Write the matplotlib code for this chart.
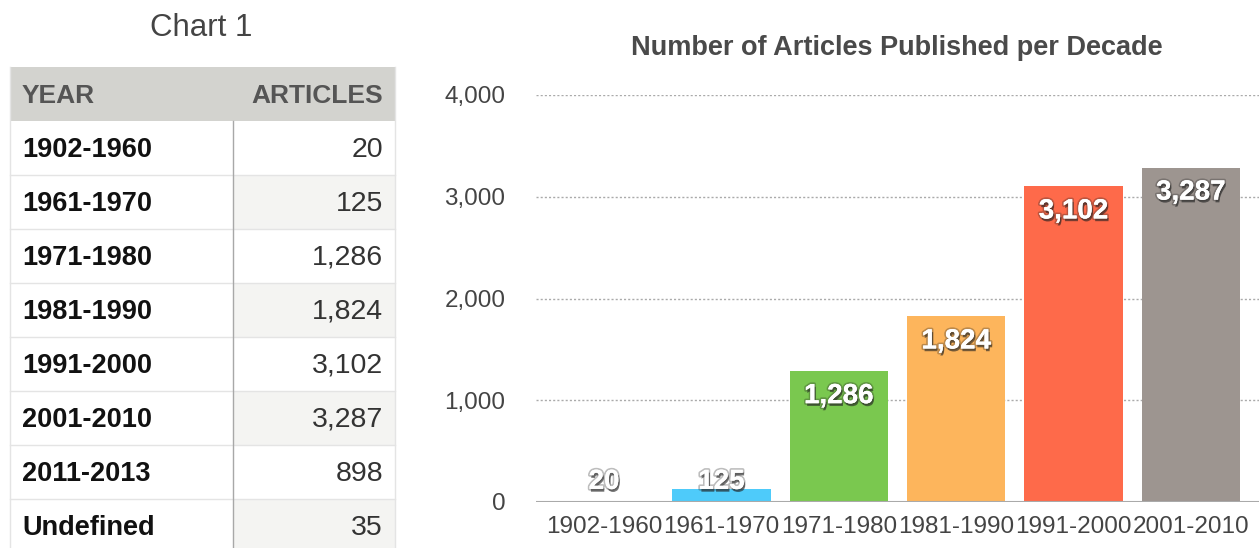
import matplotlib.pyplot as plt
import matplotlib.patheffects as pe
from matplotlib.patches import Rectangle

plt.rcParams['font.family'] = ['Liberation Sans', 'DejaVu Sans']

# table data
years = ['1902-1960', '1961-1970', '1971-1980', '1981-1990', '1991-2000',
         '2001-2010', '2011-2013', 'Undefined']
articles = [20, 125, 1286, 1824, 3102, 3287, 898, 35]

# chart data
decades = ['1902-1960', '1961-1970', '1971-1980', '1981-1990', '1991-2000', '2001-2010']
counts = [20, 125, 1286, 1824, 3102, 3287]
colors = ['#ffffff', '#4ecbfa', '#7ac84f', '#fdb55c', '#fe6a4a', '#9d9590']

W, H = 1259, 548
fig = plt.figure(figsize=(W / 100, H / 100), dpi=100)

# --- table on the left (drawn in pixel coords) ---
tab = fig.add_axes([0, 0, 1, 1])
tab.set_xlim(0, W)
tab.set_ylim(H, 0)
tab.axis('off')

tab.text(201, 28, 'Chart 1', ha='center', va='center', fontsize=22.5, color='#444444')

x0, x1, xdiv = 10, 395, 233
head_top, head_h, row_h = 67, 54, 54
tab.add_patch(Rectangle((x0, head_top), x1 - x0, head_h, facecolor='#d3d3cf',
                        edgecolor='none'))
tab.text(22, head_top + head_h / 2 + 2, 'YEAR', ha='left', va='center',
         fontsize=19, fontweight='bold', color='#555555')
tab.text(383, head_top + head_h / 2 + 2, 'ARTICLES', ha='right', va='center',
         fontsize=19, fontweight='bold', color='#555555')

for i, (yr, n) in enumerate(zip(years, articles)):
    top = head_top + head_h + i * row_h
    if i % 2 == 1:
        tab.add_patch(Rectangle((xdiv, top), x1 - xdiv, row_h,
                                facecolor='#f4f4f2', edgecolor='none'))
    if i > 0:
        tab.plot([x0, x1], [top, top], color='#e4e4e4', lw=1)
    tab.text(22, top + row_h / 2 + 2, yr, ha='left', va='center',
             fontsize=19.5, fontweight='bold', color='#111111')
    tab.text(383, top + row_h / 2 + 2, f'{n:,}', ha='right', va='center',
             fontsize=20.5, color='#333333')

tab.plot([xdiv, xdiv], [head_top + head_h, H], color='#a8a8a8', lw=1)
tab.plot([x0, x0], [head_top, H], color='#e4e4e4', lw=1)
tab.plot([x1, x1], [head_top, H], color='#e4e4e4', lw=1)

# --- bar chart on the right ---
ax = fig.add_axes([536 / W, 1 - 502 / H, 1 - 536 / W, (502 - 95) / H])
xs = range(len(decades))
ax.bar(xs, counts, width=0.84, color=colors, zorder=2)
ax.set_xlim(-0.58, len(decades) - 0.42)
ax.set_ylim(0, 4000)
ax.set_yticks([0, 1000, 2000, 3000, 4000])
ax.set_yticklabels([f'{v:,}' for v in [0, 1000, 2000, 3000, 4000]])
ax.set_xticks(list(xs))
ax.set_xticklabels(decades)
ax.tick_params(axis='both', length=0, labelsize=17.5, labelcolor='#444444')
ax.tick_params(axis='y', pad=22)
ax.tick_params(axis='x', pad=10)
for v in [1000, 2000, 3000, 4000]:
    ax.axhline(v, color='#aaaaaa', lw=1, ls=(0, (1.5, 1.5)), zorder=1)
ax.axhline(0, color='#aaaaaa', lw=1.5, zorder=3)
for s in ax.spines.values():
    s.set_visible(False)

shadow = [pe.SimplePatchShadow(offset=(1, -2), shadow_rgbFace='#222222', alpha=0.6),
          pe.withStroke(linewidth=2.5, foreground=(0.15, 0.15, 0.15, 0.3)),
          pe.Normal()]
for x, v in zip(xs, counts):
    ly = max(v - 246, 197)
    ax.text(x, ly, f'{v:,}', ha='center', va='center', fontsize=20,
            fontweight='bold', color='white', path_effects=shadow, zorder=4)

fig.text(897 / W, 1 - 48 / H, 'Number of Articles Published per Decade',
         ha='center', va='center', fontsize=19.5, fontweight='bold', color='#4a4a4a')

fig.savefig('out.png', dpi=100)
